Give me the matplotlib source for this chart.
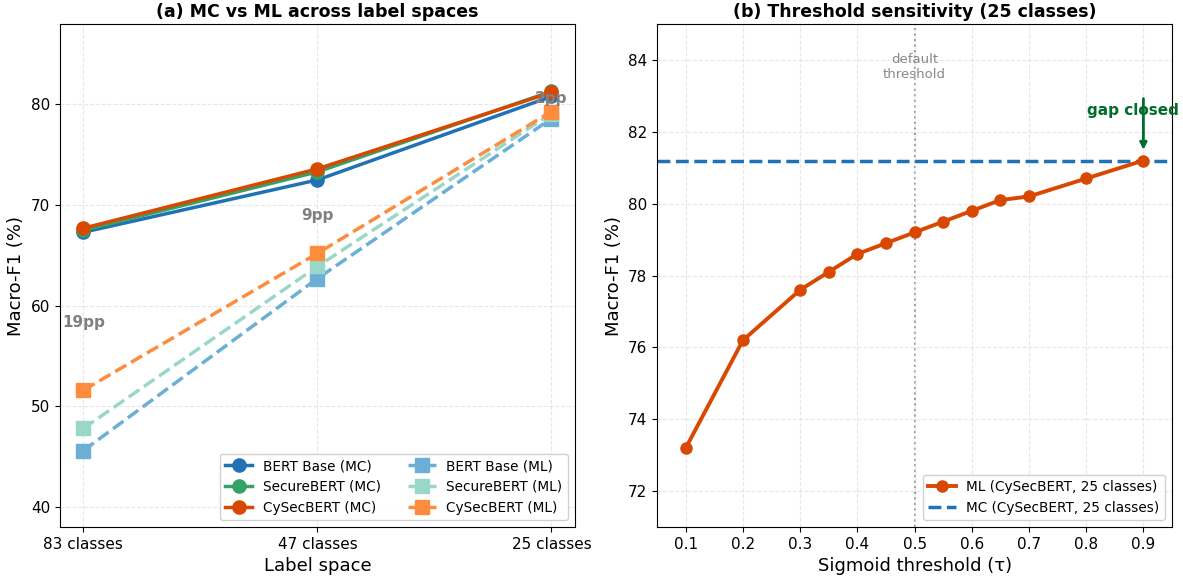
import matplotlib
matplotlib.use("Agg")
import matplotlib.pyplot as plt

# ---- data: panel (a)
label_spaces = ["83 classes", "47 classes", "25 classes"]
bert_mc = [67.3, 72.5, 80.8]
secure_mc = [67.5, 73.3, 81.3]
cysec_mc = [67.7, 73.6, 81.2]
bert_ml = [45.6, 62.7, 78.6]
secure_ml = [47.8, 63.9, 79.1]
cysec_ml = [51.6, 65.2, 79.3]
gap_labels = ["19pp", "9pp", "2pp"]
gap_y = [58.3, 69.0, 80.6]

# ---- data: panel (b)
thresholds = [0.1, 0.2, 0.3, 0.35, 0.4, 0.45, 0.5, 0.55, 0.6, 0.65, 0.7, 0.8, 0.9]
ml_f1 = [73.2, 76.2, 77.6, 78.1, 78.6, 78.9, 79.2, 79.5, 79.8, 80.1, 80.2, 80.7, 81.2]
mc_f1 = 81.2
xticks_b = [0.1, 0.2, 0.3, 0.4, 0.5, 0.6, 0.7, 0.8, 0.9]

fig, (ax1, ax2) = plt.subplots(1, 2, figsize=(11.83, 5.79), dpi=100)
fig.subplots_adjust(left=60/1183, right=1172/1183, top=1-24/579, bottom=1-527/579, wspace=0.16)

x = list(range(len(label_spaces)))
mc_series = [("BERT Base (MC)", bert_mc, "#2171b5"),
             ("SecureBERT (MC)", secure_mc, "#35a265"),
             ("CySecBERT (MC)", cysec_mc, "#d94801")]
ml_series = [("BERT Base (ML)", bert_ml, "#6baed6"),
             ("SecureBERT (ML)", secure_ml, "#99d8c9"),
             ("CySecBERT (ML)", cysec_ml, "#fd8d3c")]
for name, vals, col in mc_series:
    ax1.plot(x, vals, "-o", color=col, lw=2.5, ms=9.5, label=name, zorder=3)
for name, vals, col in ml_series:
    ax1.plot(x, vals, "--s", color=col, lw=2.5, ms=9.5, label=name, zorder=2)
for xi, lab, yv in zip(x, gap_labels, gap_y):
    ax1.text(xi, yv, lab, ha="center", va="center", fontsize=11, fontweight="bold", color="#808080", zorder=4)
ax1.set_xticks(x)
ax1.set_xticklabels(label_spaces)
ax1.set_xlim(-0.1, 2.1)
ax1.set_ylim(38, 88)
ax1.set_yticks([40, 50, 60, 70, 80])
ax1.set_xlabel("Label space", fontsize=13)
ax1.set_ylabel("Macro-F1 (%)", fontsize=13)
ax1.set_title("(a) MC vs ML across label spaces", fontsize=12.5, fontweight="bold", pad=5)
ax1.grid(True, ls="--", color="#dddddd", alpha=0.7)
ax1.legend(loc="lower right", ncol=2, fontsize=9.8, framealpha=0.9)

ax2.plot(thresholds, ml_f1, "-o", color="#d94801", lw=2.8, ms=8, label="ML (CySecBERT, 25 classes)", zorder=3)
ax2.axhline(mc_f1, color="#2171b5", ls="--", lw=2.5, label="MC (CySecBERT, 25 classes)", zorder=2)
ax2.axvline(0.5, color="#999999", ls=":", lw=1.5, zorder=1)
ax2.text(0.5, 83.8, "default\nthreshold", ha="center", va="center", fontsize=9.5, color="#888888")
ax2.annotate("", xy=(0.9, 81.42), xytext=(0.9, 83.0),
             arrowprops=dict(arrowstyle="-|>", color="#006d2c", lw=2, mutation_scale=10))
ax2.text(0.882, 82.6, "gap closed", ha="center", va="center", fontsize=11, fontweight="bold", color="#006d2c")
ax2.set_xlim(0.05, 0.95)
ax2.set_ylim(71, 85)
ax2.set_xticks(xticks_b)
ax2.set_yticks([72, 74, 76, 78, 80, 82, 84])
ax2.set_xlabel("Sigmoid threshold (τ)", fontsize=13)
ax2.set_ylabel("Macro-F1 (%)", fontsize=13)
ax2.set_title("(b) Threshold sensitivity (25 classes)", fontsize=12.5, fontweight="bold", pad=5)
ax2.grid(True, ls="--", color="#dddddd", alpha=0.7)
ax2.legend(loc="lower right", fontsize=9.8, framealpha=0.9)

for ax in (ax1, ax2):
    ax.tick_params(labelsize=11)

fig.savefig("out.png", dpi=100)
